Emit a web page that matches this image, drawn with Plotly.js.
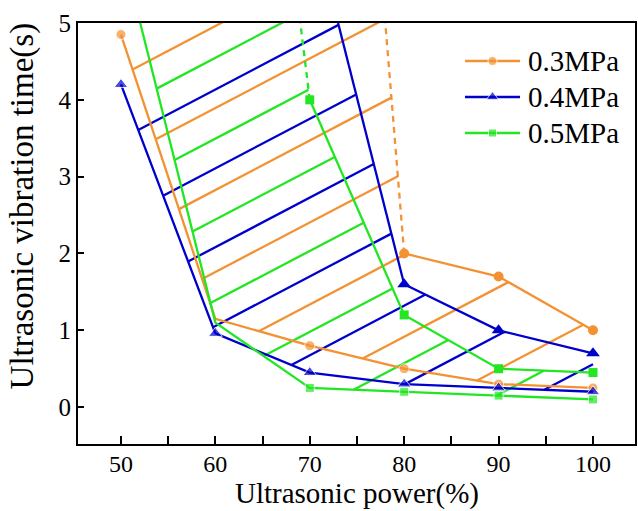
<!DOCTYPE html>
<html><head><meta charset="utf-8">
<script src="https://cdn.plot.ly/plotly-3.0.1.min.js"></script>
<style>html,body{margin:0;padding:0;background:#fff}#chart{width:638px;height:511px}</style>
</head><body><div id="chart"></div>
<script>
// ---- data ----
const power = [50, 60, 70, 80, 90, 100];
const seriesNames = ['0.3MPa', '0.4MPa', '0.5MPa'];

// lower boundary curves
const lower03 = [4.85, 1.15, 0.8, 0.5, 0.3, 0.25];
const lower04 = [4.2, 0.96, 0.45, 0.3, 0.25, 0.2];
const lower05 = [6.0, 1.1, 0.25, 0.2, 0.15, 0.1];

// upper boundary curves
const upperPower03 = [80, 90, 100];
const upper03 = [2.0, 1.7, 1.0];
const upperPower04 = [80, 90, 100];
const upper04 = [1.6, 1.0, 0.7];
const upperPower05 = [70, 80, 90, 100];
const upper05 = [4.0, 1.2, 0.5, 0.45];

// extensions of the upper curves to the top of the chart
const extPower03 = [80, 78];
const ext03 = [2.0, 5];
const extPower04 = [80, 73];
const ext04 = [1.6, 5];
const extPower05 = [70, 69];
const ext05 = [4.0, 5];

// ticks and titles
const xTickVals = [50, 55, 60, 65, 70, 75, 80, 85, 90, 95, 100];
const xTickText = ['50', '', '60', '', '70', '', '80', '', '90', '', '100'];
const yTickVals = [0, 1, 2, 3, 4, 5];
const yTickText = ['0', '1', '2', '3', '4', '5'];
const xTitle = 'Ultrasonic power(%)';
const yTitle = 'Ultrasonic vibration time(s)';

// ---- styling ----
const colors = ['#F39232', '#0000CC', '#22E622'];
const symbols = ['circle', 'triangle-up', 'square'];
const msizes = [10, 12, 9];
const FONT = 'Liberation Serif, Times New Roman, serif';
const LW = 2.3;
const HSLOPE = 0.0645;           // hatch slope in data units
const hatchCfg = [               // start offset, spacing, count
  {k0: 1.09, step: 1.067, n: 7},
  {k0: 0.264, step: 1.026, n: 7},
  {k0: 0.677, step: 1.053, n: 7}
];
// legend layout in plot pixels (overlay axes map 1:1 to pixels)
const LEG = {x0: 465, x1: 520, tx: 526, rows: [61, 97, 133]};

function buildPoly(lx, ly, ux, uy, ex, ey) {
  const p = [];
  for (let i = 0; i < lx.length; i++) p.push([lx[i], ly[i]]);
  for (let i = ux.length - 1; i >= 0; i--) p.push([ux[i], uy[i]]);
  const tx = ex[ex.length - 1], ty = ey[ey.length - 1];
  p.push([tx, ty]);
  p.push([tx, 10]);
  p.push([lx[0], 10]);
  return p;
}

function hatch(poly, s, cfg) {
  const xs = [], ys = [];
  for (let i = 0; i < cfg.n; i++) {
    const k = cfg.k0 - i * cfg.step;
    const hits = [];
    for (let j = 0; j < poly.length; j++) {
      const a = poly[j], b = poly[(j + 1) % poly.length];
      const f1 = a[1] - k - s * a[0], f2 = b[1] - k - s * b[0];
      if ((f1 < 0 && f2 >= 0) || (f1 >= 0 && f2 < 0)) {
        const t = f1 / (f1 - f2);
        hits.push(a[0] + t * (b[0] - a[0]));
      }
    }
    hits.sort((p, q) => p - q);
    for (let h = 0; h + 1 < hits.length; h += 2) {
      xs.push(hits[h], hits[h + 1], null);
      ys.push(k + s * hits[h], k + s * hits[h + 1], null);
    }
  }
  return {xs, ys};
}

const groups = [
  {lower: lower03, ux: upperPower03, uy: upper03, ex: extPower03, ey: ext03, dash: true, lowMk: [1, 0, 1, 1, 1, 1]},
  {lower: lower04, ux: upperPower04, uy: upper04, ex: extPower04, ey: ext04, dash: false, lowMk: [1, 1, 1, 1, 1, 1]},
  {lower: lower05, ux: upperPower05, uy: upper05, ex: extPower05, ey: ext05, dash: true, lowMk: [0, 0, 1, 1, 1, 1]}
];

const traces = [];
groups.forEach((g, i) => {
  const poly = buildPoly(power, g.lower, g.ux, g.uy, g.ex, g.ey);
  const h = hatch(poly, HSLOPE, hatchCfg[i]);
  traces.push({x: h.xs, y: h.ys, mode: 'lines', showlegend: false, hoverinfo: 'skip',
    line: {color: colors[i], width: LW}});
});
groups.forEach((g, i) => {
  traces.push({x: g.ex, y: g.ey, mode: 'lines', showlegend: false, hoverinfo: 'skip',
    line: {color: colors[i], width: LW, dash: g.dash ? '6px,5px' : 'solid'}});
});
groups.forEach((g, i) => {
  traces.push({x: g.ux, y: g.uy, mode: 'lines+markers', showlegend: false, name: seriesNames[i],
    line: {color: colors[i], width: LW},
    marker: {symbol: symbols[i], size: msizes[i], color: colors[i]}});
});
groups.forEach((g, i) => {
  traces.push({x: power, y: g.lower, mode: 'lines+markers', name: seriesNames[i], showlegend: false,
    line: {color: colors[i], width: LW},
    marker: {symbol: symbols[i], size: g.lowMk.map(v => v ? msizes[i] : 0), color: colors[i]}});
});
// legend samples on overlay pixel axes
const annotations = [];
seriesNames.forEach((nm, i) => {
  const y = LEG.rows[i];
  traces.push({x: [LEG.x0, (LEG.x0 + LEG.x1) / 2, LEG.x1], y: [y, y, y], xaxis: 'x2', yaxis: 'y2',
    mode: 'lines+markers', showlegend: false, hoverinfo: 'skip',
    line: {color: colors[i], width: LW},
    marker: {symbol: symbols[i], size: [0, msizes[i] - 1, 0], color: colors[i]}});
  annotations.push({xref: 'x2', yref: 'y2', x: LEG.tx, y: y, text: nm, showarrow: false,
    xanchor: 'left', yanchor: 'middle', font: {family: FONT, size: 29, color: '#000'}});
});
// axis titles placed as in the reference
annotations.push({xref: 'paper', yref: 'paper', x: -0.1, y: 0.565, textangle: -90,
  text: yTitle, showarrow: false, xanchor: 'center', yanchor: 'middle',
  font: {family: FONT, size: 33, color: '#000'}});
annotations.push({xref: 'paper', yref: 'paper', x: 0.5, y: -0.159,
  text: xTitle, showarrow: false, xanchor: 'center', yanchor: 'bottom', borderpad: 0,
  font: {family: FONT, size: 29, color: '#000'}});

const layout = {
  width: 638, height: 511,
  margin: {l: 78, r: 3, t: 23, b: 67},
  paper_bgcolor: '#fff', plot_bgcolor: '#fff',
  font: {family: FONT, color: '#000', size: 24},
  showlegend: false,
  annotations: annotations,
  xaxis: {range: [45.45, 104.45], tickmode: 'array', tickvals: xTickVals, ticktext: xTickText,
    ticks: 'inside', ticklen: 8, tickwidth: 2, tickcolor: '#000', ticklabelstandoff: -3,
    showline: true, linecolor: '#000', linewidth: 2, mirror: true,
    showgrid: false, zeroline: false, tickfont: {size: 24}},
  yaxis: {range: [-0.48, 5], tickmode: 'array', tickvals: yTickVals, ticktext: yTickText,
    ticks: 'inside', ticklen: 6, tickwidth: 2, tickcolor: '#000',
    showline: true, linecolor: '#000', linewidth: 2, mirror: true,
    showgrid: false, zeroline: false, tickfont: {size: 25}},
  xaxis2: {overlaying: 'x', range: [78, 635], visible: false, fixedrange: true},
  yaxis2: {overlaying: 'y', range: [444, 23], visible: false, fixedrange: true}
};

Plotly.newPlot('chart', traces, layout, {staticPlot: true, displayModeBar: false});
</script>
</body></html>
